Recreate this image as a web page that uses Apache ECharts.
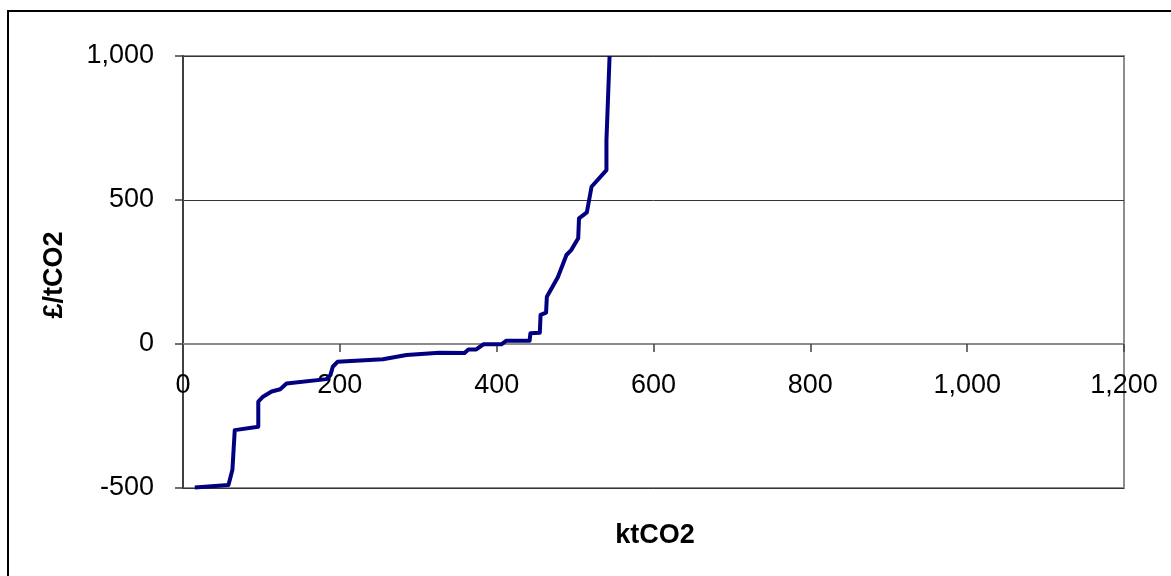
<!DOCTYPE html>
<html>
<head>
<meta charset="utf-8">
<title>Marginal abatement cost curve</title>
<script src="https://cdn.jsdelivr.net/npm/echarts@6/dist/echarts.min.js"></script>
<style>
  html, body { margin: 0; padding: 0; background: #ffffff; }
  #chart { width: 1171px; height: 576px; }
</style>
</head>
<body>
<div id="chart"></div>
<script>
// Cumulative abatement (ktCO2) against marginal cost (£/tCO2)
const abatementKt = [
  15, 58, 63, 66, 96, 96, 102, 113, 124, 132,
  183, 188, 191, 197, 255, 285, 327, 359, 364, 374,
  383, 406, 412, 442, 443, 455, 456, 463, 464, 478,
  489, 495, 504, 505, 515, 521, 540, 540, 544
];
const costPerT = [
  -498, -490, -437, -299, -287, -200, -183, -165, -157, -137,
  -122, -108, -79, -62, -53, -38, -30, -31, -19, -19,
  -1, -1, 11, 11, 37, 39, 101, 109, 164, 232,
  309, 326, 367, 436, 457, 546, 604, 708, 1000
];
const xTicks = [0, 200, 400, 600, 800, 1000, 1200];
const yTicks = [-500, 0, 500, 1000];
const xTitle = 'ktCO2';
const yTitle = '£/tCO2';

const points = abatementKt.map((x, i) => [x, costPerT[i]]);
const fmt = v => Number(v).toLocaleString('en-US');

const FONT = '"Liberation Sans", Arial, sans-serif';
const chart = echarts.init(document.getElementById('chart'), null, { renderer: 'canvas' });

// the x labels sit just under the zero line, which crosses the plot at 1/3 height
const gridTop = 56, gridHeight = 432;
const zeroOffset = gridHeight * (yTicks[yTicks.length - 1] - 0) / (yTicks[yTicks.length - 1] - yTicks[0]);
const labelGapBelowZero = 28;
const xLabelMargin = labelGapBelowZero - (gridHeight - zeroOffset);

chart.setOption({
  animation: false,
  backgroundColor: '#ffffff',
  grid: {
    left: 183, top: gridTop, width: 941, height: gridHeight,
    show: true, borderColor: '#8c8c8c', borderWidth: 2, backgroundColor: 'transparent'
  },
  xAxis: {
    type: 'value',
    min: xTicks[0], max: xTicks[xTicks.length - 1], interval: 200,
    axisLine: { show: true, onZero: true, lineStyle: { color: '#8c8c8c', width: 2 } },
    axisTick: { show: true, inside: false, length: 8, lineStyle: { color: '#404040', width: 1.5 } },
    splitLine: { show: false },
    axisLabel: {
      margin: xLabelMargin, fontFamily: FONT, fontSize: 27, color: '#000000',
      formatter: fmt
    }
  },
  yAxis: {
    type: 'value',
    min: yTicks[0], max: yTicks[yTicks.length - 1], interval: 500,
    axisLine: { show: true, onZero: false, lineStyle: { color: '#404040', width: 2 } },
    axisTick: { show: true, inside: false, length: 8, lineStyle: { color: '#404040', width: 1.5 } },
    splitLine: { show: true, lineStyle: { color: '#333333', width: 1 } },
    axisLabel: {
      margin: 29, fontFamily: FONT, fontSize: 27, color: '#000000',
      formatter: fmt
    }
  },
  series: [{
    type: 'line',
    data: points,
    showSymbol: false,
    symbol: 'none',
    smooth: false,
    clip: true,
    lineStyle: { color: '#000080', width: 4, join: 'round' },
    z: 5
  }],
  graphic: [
    {
      type: 'rect', silent: true, z: -1,
      shape: { x: 8, y: 11, width: 1200, height: 600 },
      style: { fill: 'none', stroke: '#000000', lineWidth: 2 }
    },
    {
      type: 'text', silent: true,
      x: 655, y: 536,
      style: {
        text: xTitle, font: 'bold 27px ' + FONT, fill: '#000000',
        align: 'center', verticalAlign: 'middle'
      }
    },
    {
      type: 'text', silent: true,
      x: 55, y: 275, rotation: Math.PI / 2,
      style: {
        text: yTitle, font: 'bold 27px ' + FONT, fill: '#000000',
        align: 'center', verticalAlign: 'middle'
      }
    }
  ]
});
</script>
</body>
</html>
